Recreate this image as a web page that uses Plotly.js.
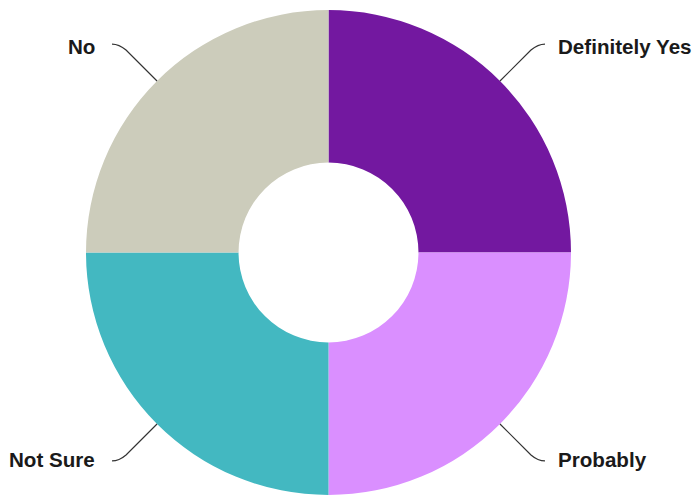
<!DOCTYPE html>
<html>
<head>
<meta charset="utf-8">
<script src="https://cdn.plot.ly/plotly-3.0.1.min.js"></script>
<style>html,body{margin:0;padding:0;background:#fff;}#chart{width:698px;height:495px;}</style>
</head>
<body>
<div id="chart"></div>
<script>
const categories = ["Definitely Yes", "Probably", "Not Sure", "No"];
const values = [25, 25, 25, 25];
const colors = ["#7318A0", "#DA8FFF", "#43B8C1", "#CCCCBB"];

const W = 698, H = 495;
const cx = 328.5, cy = 252.5, R = 242.5;

const total = values.reduce((a, b) => a + b, 0);
const shapes = [];
const annotations = [];
let acc = 0;
const px = x => x / W;
const py = y => 1 - y / H;
values.forEach((v, i) => {
  const mid = (acc + v / 2) / total * 2 * Math.PI; // clockwise from 12 o'clock
  acc += v;
  const sx = Math.sin(mid), sy = -Math.cos(mid);
  const side = sx >= 0 ? 1 : -1;
  const vs = sy >= 0 ? 1 : -1;
  const x0 = cx + R * sx, y0 = cy + R * sy;
  const x1 = x0 + side * 31, y1 = y0 + vs * 31;
  const xc = x0 + side * 38, yc = y0 + vs * 37;
  const x2 = x0 + side * 45, y2 = y0 + vs * 37;
  shapes.push({
    type: "path", xref: "paper", yref: "paper",
    path: `M ${px(x0)} ${py(y0)} L ${px(x1)} ${py(y1)} Q ${px(xc)} ${py(yc)} ${px(x2)} ${py(y2)}`,
    line: {color: "#333333", width: 1.2}
  });
  const gap = side > 0 ? 11 : 15;
  annotations.push({
    xref: "paper", yref: "paper",
    x: px(x2 + side * gap), y: py(y2 + (vs < 0 ? 2 : -1)),
    xanchor: side > 0 ? "left" : "right", yanchor: "middle",
    text: "<b>" + categories[i] + "</b>",
    showarrow: false,
    font: {family: "Liberation Sans, Arial, sans-serif", size: 20.6, color: "#1a1a1a"}
  });
});

const data = [{
  type: "pie",
  labels: categories,
  values: values,
  marker: {colors: colors, line: {width: 0}},
  hole: 0.371,
  sort: false,
  direction: "clockwise",
  rotation: 0,
  textinfo: "none",
  hoverinfo: "label+percent",
  domain: {x: [(cx - R) / W, (cx + R) / W], y: [1 - (cy + R) / H, 1 - (cy - R) / H]}
}];

const layout = {
  width: W, height: H,
  margin: {l: 0, r: 0, t: 0, b: 0},
  showlegend: false,
  paper_bgcolor: "#ffffff",
  shapes: shapes,
  annotations: annotations
};

Plotly.newPlot("chart", data, layout, {displayModeBar: false, staticPlot: true});
</script>
</body>
</html>
